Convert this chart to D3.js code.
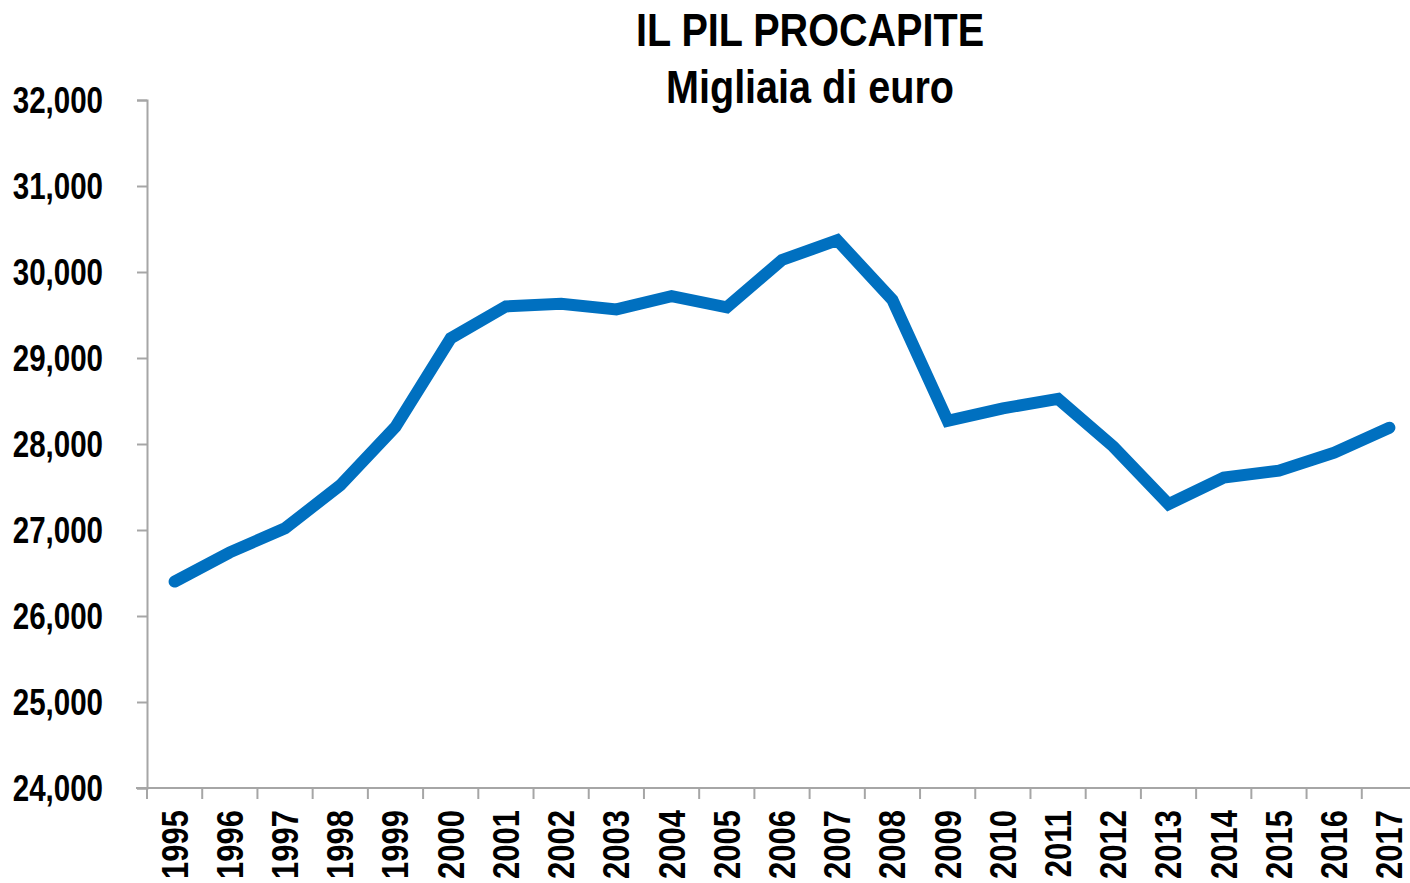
<!DOCTYPE html>
<html>
<head>
<meta charset="utf-8">
<title>IL PIL PROCAPITE</title>
<script src="https://d3js.org/d3.v7.min.js"></script>
<style>
  html, body { margin: 0; padding: 0; background: #fff; }
  svg text { font-family: "Liberation Sans Narrow", "Arial Narrow", "Liberation Sans", Arial, sans-serif; font-weight: bold; fill: #000; }
</style>
</head>
<body>
<svg id="chart" width="1410" height="883"></svg>
<script>
// data
var years = ["1995","1996","1997","1998","1999","2000","2001","2002","2003","2004","2005",
             "2006","2007","2008","2009","2010","2011","2012","2013","2014","2015","2016","2017"];
var pilProcapite = [26400, 26740, 27020, 27520, 28200, 29230, 29600, 29630, 29565, 29720, 29590,
                    30140, 30370, 29675, 28270, 28415, 28525, 27970, 27300, 27610, 27690, 27900, 28190];
var yTicks = [24000, 25000, 26000, 27000, 28000, 29000, 30000, 31000, 32000];
var titleLines = ["IL PIL PROCAPITE", "Migliaia di euro"];

var svg = d3.select("#chart");

var mLeft = 147, mRight = 1417, mTop = 100, mBottom = 788;
var AXIS_GREY = "#a6a6a6";

var x = d3.scaleBand()
    .domain(years)
    .range([mLeft, mRight]);

var y = d3.scaleLinear()
    .domain([24000, 32000])
    .range([mBottom, mTop]);

// squeeze a text horizontally to look like a narrow face
function narrow(sel, k) {
  sel.each(function() {
    var w = this.getComputedTextLength();
    d3.select(this).attr("textLength", w * k).attr("lengthAdjust", "spacingAndGlyphs");
  });
}

// title
svg.selectAll("text.title")
  .data(titleLines)
  .enter().append("text")
    .attr("class", "title")
    .attr("x", 810)
    .attr("y", function(d, i) { return 46 + i * 57; })
    .attr("text-anchor", "middle")
    .style("font-size", "46px")
    .text(function(d) { return d; })
    .call(narrow, 0.86);

// y axis
var yAxis = svg.append("g")
    .attr("transform", "translate(" + mLeft + ",0)")
    .call(d3.axisLeft(y).tickValues(yTicks).tickSize(10).tickPadding(34)
      .tickFormat(d3.format(",")));
yAxis.select(".domain").attr("stroke", AXIS_GREY).attr("stroke-width", 2);
yAxis.selectAll(".tick line").attr("stroke", AXIS_GREY).attr("stroke-width", 2);
yAxis.selectAll(".tick text")
    .style("font-size", "36px")
    .attr("dy", "0.36em")
    .call(narrow, 0.82);

// x axis
var xAxis = svg.append("g")
    .attr("transform", "translate(0," + mBottom + ")")
    .call(d3.axisBottom(x).tickSize(0).tickPadding(0));
xAxis.select(".domain").remove();
xAxis.append("line")
    .attr("x1", mLeft - 11).attr("x2", 1410)
    .attr("y1", 0).attr("y2", 0)
    .attr("stroke", AXIS_GREY).attr("stroke-width", 2);
// band boundary ticks
xAxis.selectAll("line.bt")
  .data(years)
  .enter().append("line")
    .attr("class", "bt")
    .attr("x1", function(d) { return x(d); })
    .attr("x2", function(d) { return x(d); })
    .attr("y1", 0).attr("y2", 11)
    .attr("stroke", AXIS_GREY).attr("stroke-width", 2);
xAxis.selectAll(".tick text")
    .style("font-size", "36px")
    .attr("text-anchor", "end")
    .attr("transform", "translate(0,22) rotate(-90)")
    .attr("x", 0)
    .attr("y", 0)
    .attr("dy", "0.36em")
    .call(narrow, 0.86);

// line
var line = d3.line()
    .x(function(d, i) { return x(years[i]) + x.bandwidth() / 2; })
    .y(function(d) { return y(d); });

svg.append("path")
    .datum(pilProcapite)
    .attr("d", line)
    .attr("fill", "none")
    .attr("stroke", "#0070c0")
    .attr("stroke-width", 12)
    .attr("stroke-linecap", "round")
    .attr("stroke-linejoin", "miter");
</script>
</body>
</html>
